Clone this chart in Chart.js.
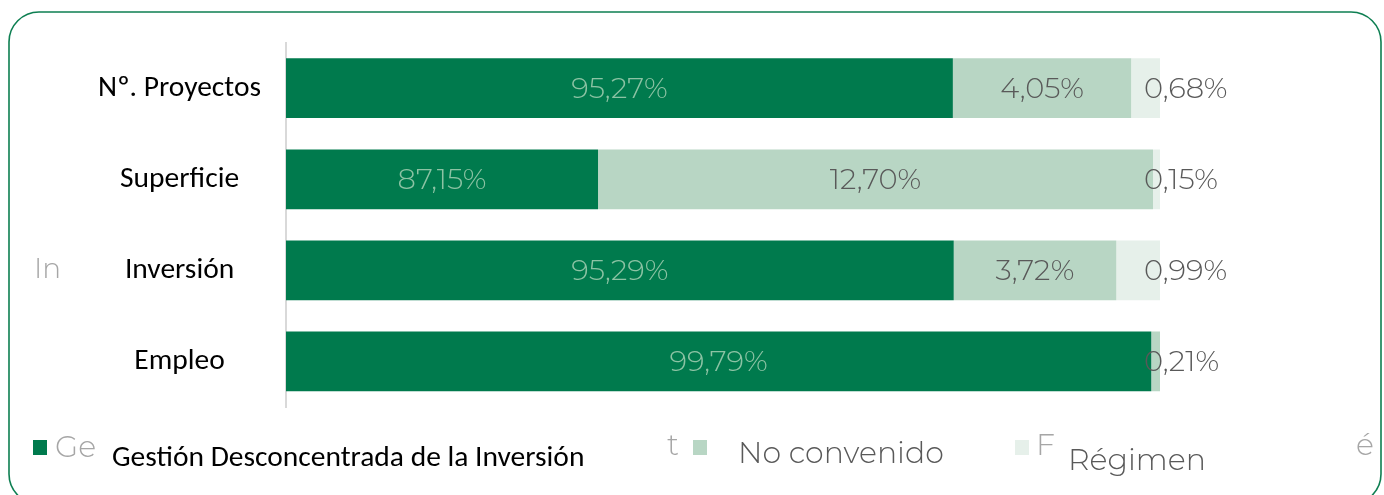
<!DOCTYPE html>
<html>
<head>
<meta charset="utf-8">
<script src="https://cdn.jsdelivr.net/npm/chart.js@4/dist/chart.umd.min.js"></script>
<style>
html,body{margin:0;padding:0;background:#fff;}
#wrap{width:1384px;height:495px;position:relative;overflow:hidden;}
canvas{display:block;}
</style>
</head>
<body>
<div id="wrap"><canvas id="c" width="1384" height="495"></canvas></div>
<script>
// ---- data ----
const categories = ['Nº. Proyectos', 'Superficie', 'Inversión', 'Empleo'];
const seriesNames = ['Gestión Desconcentrada de la Inversión', 'No convenido', 'Régimen'];
const gestionValues = [76.3, 35.7, 76.4, 99.0];
const noConvenidoValues = [20.4, 63.5, 18.6, 1.0];
const regimenValues = [3.3, 0.8, 5.0, 0];
const gestionLabels = ['95,27%', '87,15%', '95,29%', '99,79%'];
const noConvenidoLabels = ['4,05%', '12,70%', '3,72%', '0,21%'];
const regimenLabels = ['0,68%', '0,15%', '0,99%', ''];

const colors = ['#007a4d', '#b8d6c4', '#e6f0ea'];
const labelColors = ['#8cc3a4', '#595959', '#595959'];
const labelSets = [gestionLabels, noConvenidoLabels, regimenLabels];

const lightFont = "Montserrat, Lato, 'Open Sans', sans-serif";
const darkFont = "Carlito, Calibri, Lato, 'Open Sans', sans-serif";

const framePlugin = {
  id: 'frame',
  beforeDraw(chart) {
    const ctx = chart.ctx;
    ctx.save();
    ctx.fillStyle = '#ffffff';
    ctx.fillRect(0, 0, chart.width, chart.height);
    ctx.strokeStyle = '#0e7f52';
    ctx.lineWidth = 1.6;
    ctx.beginPath();
    ctx.roundRect(9, 12, 1372, 492, 30);
    ctx.stroke();
    // faded remnant of original axis label
    ctx.fillStyle = '#a6a6a6';
    ctx.font = "300 28px " + lightFont;
    ctx.textBaseline = 'middle';
    ctx.textAlign = 'left';
    ctx.fillText('In', 34, 270);
    ctx.restore();
  }
};

const valueLabelPlugin = {
  id: 'valueLabels',
  afterDatasetsDraw(chart) {
    const ctx = chart.ctx;
    ctx.save();
    ctx.font = "300 29px " + lightFont;
    ctx.textBaseline = 'middle';
    chart.data.datasets.forEach((ds, di) => {
      const meta = chart.getDatasetMeta(di);
      meta.data.forEach((bar, i) => {
        const txt = labelSets[di][i];
        if (!txt) return;
        const left = bar.base, right = bar.x;
        const w = ctx.measureText(txt).width;
        ctx.fillStyle = labelColors[di];
        if (right - left > w + 20) {
          ctx.textAlign = 'center';
          ctx.fillText(txt, (left + right) / 2, bar.y + 1);
        } else {
          ctx.textAlign = 'left';
          ctx.fillStyle = '#595959';
          ctx.fillText(txt, chart.chartArea.right - 16, bar.y + 1);
        }
      });
    });
    ctx.restore();
  }
};

const legendPlugin = {
  id: 'customLegend',
  afterDraw(chart) {
    const ctx = chart.ctx;
    ctx.save();
    ctx.textBaseline = 'middle';
    ctx.textAlign = 'left';
    // squares
    const sq = [[33, colors[0]], [693, colors[1]], [1015, colors[2]]];
    sq.forEach(([x, c]) => { ctx.fillStyle = c; ctx.fillRect(x, 440, 14, 15); });
    // faded fragments
    ctx.fillStyle = '#a6a6a6';
    ctx.font = "300 30px " + lightFont;
    ctx.fillText('Ge', 55, 448);
    ctx.fillText('t', 667, 446);
    ctx.fillText('F', 1036, 446);
    ctx.fillText('é', 1356, 446);
    // visible legend texts
    ctx.fillStyle = '#000000';
    ctx.font = "29.5px " + darkFont;
    ctx.fillText(seriesNames[0], 112, 459);
    ctx.fillStyle = '#595959';
    ctx.font = "300 30px " + lightFont;
    ctx.fillText(seriesNames[1], 738, 454);
    ctx.fillText(seriesNames[2], 1068, 461);
    ctx.restore();
  }
};

new Chart(document.getElementById('c'), {
  type: 'bar',
  data: {
    labels: categories,
    datasets: [
      { label: seriesNames[0], data: gestionValues, backgroundColor: colors[0] },
      { label: seriesNames[1], data: noConvenidoValues, backgroundColor: colors[1] },
      { label: seriesNames[2], data: regimenValues, backgroundColor: colors[2] }
    ]
  },
  options: {
    indexAxis: 'y',
    responsive: false,
    animation: false,
    devicePixelRatio: 1,
    layout: { padding: { left: 0, top: 41, right: 224, bottom: 88 } },
    datasets: { bar: { categoryPercentage: 1, barPercentage: 0.656, borderWidth: 0 } },
    plugins: { legend: { display: false }, tooltip: { enabled: false } },
    scales: {
      x: { stacked: true, min: 0, max: 100, display: false },
      y: {
        stacked: true,
        grid: { display: false, drawTicks: false },
        border: { display: true, color: '#d9d9d9', width: 2 },
        afterFit(axis) { axis.width = 286; },
        ticks: {
          crossAlign: 'center',
          padding: 25,
          color: '#000000',
          font: { family: darkFont, size: 29.5 }
        }
      }
    }
  },
  plugins: [framePlugin, valueLabelPlugin, legendPlugin]
});
</script>
</body>
</html>
